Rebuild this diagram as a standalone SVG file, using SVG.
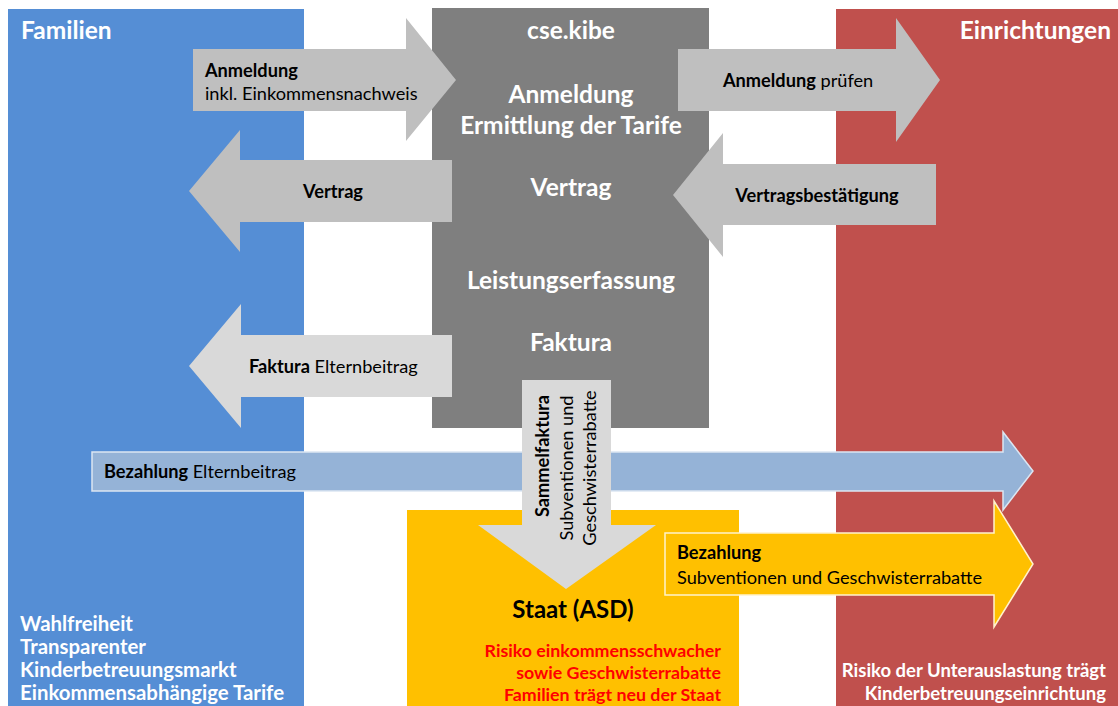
<svg xmlns="http://www.w3.org/2000/svg" width="1118" height="706" viewBox="0 0 1118 706">
<style>
text{font-family:Lato,"Liberation Sans",sans-serif;}
.t{font-weight:bold;fill:#fff;font-size:24.5px;}
.w{font-weight:bold;fill:#fff;font-size:18.5px;}
.wl{font-size:20.4px;}
.l{font-size:18.2px;fill:#000;}
.b{font-weight:bold;}
.r{font-weight:bold;fill:#ff0000;font-size:17.8px;text-anchor:end;}
.ga{fill:#bfbfbf;}
.gl{fill:#d9d9d9;}
</style>
<rect width="1118" height="706" fill="#fff"/>
<g id="familien">
<rect x="8" y="9" width="296" height="697" fill="#558ed5"/>
<text class="t" x="21" y="39">Familien</text>
<text class="w wl" x="20" y="631">Wahlfreiheit</text>
<text class="w wl" x="20" y="654">Transparenter</text>
<text class="w wl" x="20" y="677">Kinderbetreuungsmarkt</text>
<text class="w wl" x="20" y="700">Einkommensabhängige Tarife</text>
</g>
<g id="einrichtungen">
<rect x="836" y="9" width="282" height="697" fill="#c0504d"/>
<text class="t" x="1111" y="39" text-anchor="end">Einrichtungen</text>
<text class="w" x="1106" y="677" text-anchor="end">Risiko der Unterauslastung trägt</text>
<text class="w" x="1106" y="700" text-anchor="end">Kinderbetreuungseinrichtung</text>
</g>
<g id="cse-kibe">
<rect x="432" y="8" width="277" height="420" fill="#7f7f7f"/>
<g class="t" text-anchor="middle">
<text x="571" y="39">cse.kibe</text>
<text x="571" y="103">Anmeldung</text>
<text x="571" y="134">Ermittlung der Tarife</text>
<text x="571" y="196">Vertrag</text>
<text x="571" y="289">Leistungserfassung</text>
<text x="571" y="351">Faktura</text>
</g>
</g>
<g id="staat">
<rect x="407" y="510" width="332" height="196" fill="#ffc000"/>
<text x="573" y="618" text-anchor="middle" style="font-weight:bold;font-size:24px;fill:#000">Staat (ASD)</text>
<text class="r" x="721" y="657">Risiko einkommensschwacher</text>
<text class="r" x="721" y="679">sowie Geschwisterrabatte</text>
<text class="r" x="721" y="701">Familien trägt neu der Staat</text>
</g>
<g id="connectors">
<g id="arrow-anmeldung">
<polygon class="ga" points="193,49 406,49 406,18 456,80 406,141 406,111 193,111"/>
<text class="l b" x="205" y="77">Anmeldung</text>
<text class="l" x="205" y="100">inkl. Einkommensnachweis</text>
</g>
<g id="arrow-vertrag">
<polygon class="ga" points="452,160 240,160 240,130 189,191 240,252 240,222 452,222"/>
<text class="l b" x="333" y="198" text-anchor="middle">Vertrag</text>
</g>
<g id="arrow-pruefen">
<polygon class="ga" points="678,49 896,49 896,18 940,80 896,142 896,111 678,111"/>
<text class="l" x="723" y="87"><tspan class="b">Anmeldung</tspan> prüfen</text>
</g>
<g id="arrow-bestaetigung">
<polygon class="ga" points="936,164 723,164 723,133 673,195 723,257 723,225 936,225"/>
<text class="l b" x="817" y="202" text-anchor="middle">Vertragsbestätigung</text>
</g>
<g id="arrow-faktura">
<polygon class="gl" points="452,335 241,335 241,304 189,366 241,428 241,397 452,397"/>
<text class="l" x="249" y="373"><tspan class="b">Faktura</tspan> Elternbeitrag</text>
</g>
<g id="arrow-bezahlung-eltern">
<polygon points="92,452 1003,452 1003,432 1033,471 1003,510 1003,491 92,491" fill="#95b3d7" stroke="#dce6f2" stroke-width="1.5"/>
<text class="l" x="104" y="478"><tspan class="b">Bezahlung</tspan> Elternbeitrag</text>
</g>
<g id="arrow-sammelfaktura">
<polygon class="gl" points="522,380 611,380 611,525 656,525 566,589 478,525 522,525"/>
<g class="l" text-anchor="middle">
<text transform="translate(549,456) rotate(-90)" class="b">Sammelfaktura</text>
<text transform="translate(573,468) rotate(-90)">Subventionen und</text>
<text transform="translate(596,468) rotate(-90)">Geschwisterrabatte</text>
</g>
</g>
<g id="arrow-bezahlung-staat">
<polygon points="665,533 994,533 994,501 1033,564 994,627 994,595 665,595" fill="#ffc000" stroke="#fff2cc" stroke-width="1.5"/>
<text class="l b" x="677" y="559">Bezahlung</text>
<text class="l" x="677" y="584">Subventionen und Geschwisterrabatte</text>
</g>
</g>
</svg>
